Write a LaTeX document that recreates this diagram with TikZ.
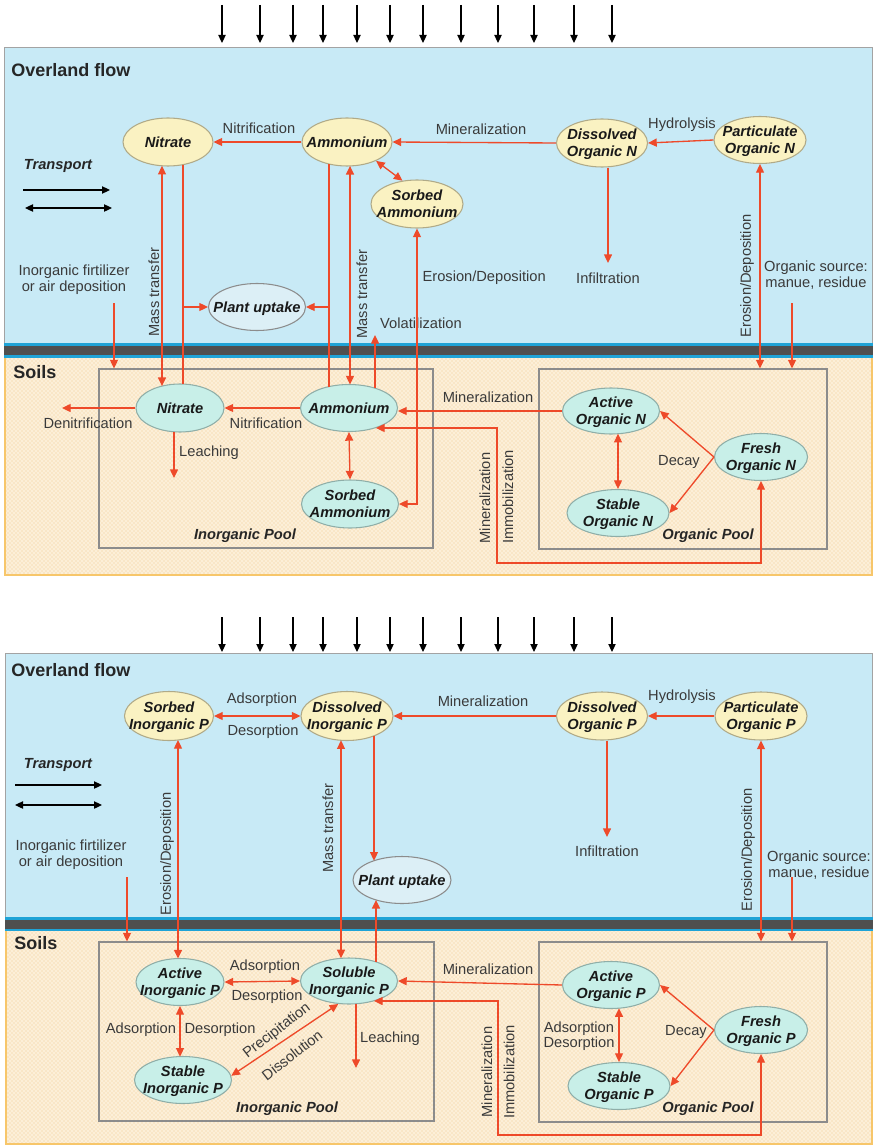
\documentclass[tikz,border=0pt]{standalone}
\usepackage{fontspec}
\setmainfont{Liberation Sans}
\usetikzlibrary{arrows.meta,calc,patterns,shapes.geometric}
\definecolor{skyb}{HTML}{C8EAF6}
\definecolor{soilc}{HTML}{FCEFD8}
\definecolor{soild}{HTML}{F2CC90}
\definecolor{ylwf}{HTML}{FAF2C2}
\definecolor{ylwd}{HTML}{B0AA88}
\definecolor{mntf}{HTML}{C8EFE8}
\definecolor{mntd}{HTML}{8FAEA8}
\definecolor{plf}{HTML}{DCEFF6}
\definecolor{redc}{HTML}{EE4A2A}
\definecolor{txtc}{HTML}{3A3A3A}
\definecolor{bandd}{HTML}{4F4F4F}
\definecolor{bandb}{HTML}{1FA3D6}
\definecolor{boxg}{HTML}{8C8C8C}
\definecolor{soilb}{HTML}{F7C66A}
\newcommand{\etx}[1]{\raisebox{-4pt}[0pt][0pt]{\makebox[0pt]{\begin{tabular}{@{}c@{}}#1\end{tabular}}}}
\tikzset{
  sz/.style 2 args={minimum width=#1*0.75pt, minimum height=#2*0.75pt},
  ebase/.style={ellipse, inner sep=0pt, line width=0.8pt, text=black!90,
     font=\bfseries\itshape\fontsize{11}{13}\selectfont},
  ylw/.style={ebase, fill=ylwf, draw=ylwd},
  mnt/.style={ebase, fill=mntf, draw=mntd},
  plnt/.style={ebase, fill=plf, draw=boxg},
  lbl/.style={font=\fontsize{11}{12}\selectfont, text=txtc, inner sep=1pt, align=center},
  blbl/.style={font=\bfseries\itshape\fontsize{11}{12}\selectfont, text=black!85, inner sep=1pt},
  ttl/.style={font=\bfseries\fontsize{13.5}{15}\selectfont, text=black!85, inner sep=0pt, anchor=west},
  rl/.style={draw=redc, line width=1pt},
  ra/.style={rl, -{Triangle[length=6.5pt,width=6pt]}},
  rab/.style={rl, {Triangle[length=6.5pt,width=6pt]}-{Triangle[length=6.5pt,width=6pt]}},
  pool/.style={draw=boxg, line width=0.8pt, inner sep=0pt, rectangle},
  bk/.style={draw=black, line width=0.8pt, -{Triangle[length=6pt,width=5.5pt]}},
  bkb/.style={draw=black, line width=0.9pt, {Triangle[length=6pt,width=5.5pt]}-{Triangle[length=6pt,width=5.5pt]}},
}
\begin{document}
\begin{tikzpicture}[x=0.75pt,y=-0.75pt]
\useasboundingbox (0,0) rectangle (873,1145);
% ---------- backgrounds, top panel
\fill[skyb] (4,47) rectangle (872,344);
\draw[boxg!80, line width=0.6pt] (4,344) -- (4,47) -- (872,47) -- (872,344);
\fill[bandb] (4,343) rectangle (873,358);
\fill[bandd] (4,346) rectangle (873,355);
\fill[soilc] (4,358) rectangle (872,575);
\fill[pattern=crosshatch dots, pattern color=soild] (4,358) rectangle (872,575);
\draw[soilb, line width=1pt] (5,358) -- (5,575) -- (872,575) -- (872,358);
% ---------- backgrounds, bottom panel
\fill[skyb] (5,653) rectangle (872,918);
\draw[boxg!80, line width=0.6pt] (5,918) -- (5,653) -- (872,653) -- (872,918);
\fill[bandb] (5,917) rectangle (873,931);
\fill[bandd] (5,920) rectangle (873,929);
\fill[soilc] (5,931) rectangle (872,1145);
\fill[pattern=crosshatch dots, pattern color=soild] (5,931) rectangle (872,1145);
\draw[soilb, line width=1pt] (6,931) -- (6,1144) -- (872,1144) -- (872,931);
% rain arrows
\foreach \xx in {222,260,293,323,357,390,423,461,498,534,574,612} {
  \draw[bk] (\xx,5) -- (\xx,43);
  \draw[bk] (\xx,617) -- (\xx,652);
}
% ================= TOP PANEL (N) =================
\node[ttl] (ovT) at (11,70) {Overland flow};
\node[ttl] (soT) at (13,372) {Soils};
\node[pool, sz={334}{179}] (ipT) at (266,458.5) {};
\node[pool, sz={288}{180}] (opT) at (683,459) {};

\node[ylw, sz={90}{48}] (nitT) at (168,142) {\etx{Nitrate}};
\node[ylw, sz={90}{48}] (ammT) at (347,142) {\etx{Ammonium}};
\node[ylw, sz={92}{48}] (sorT) at (417,204) {\etx{Sorbed\\Ammonium}};
\node[ylw, sz={91}{48}] (donT) at (602,143) {\etx{Dissolved\\Organic N}};
\node[ylw, sz={92}{47}] (ponT) at (760,140) {\etx{Particulate\\Organic N}};
\node[plnt, sz={97}{47}] (plantT) at (257,307) {\etx{Plant uptake}};

\node[mnt, sz={88}{48}] (nitS) at (180,408) {\etx{Nitrate}};
\node[mnt, sz={97}{47}] (ammS) at (349,408) {\etx{Ammonium}};
\node[mnt, sz={97}{48}] (sorS) at (350,504) {\etx{Sorbed\\Ammonium}};
\node[mnt, sz={97}{46}] (aonS) at (611,411) {\etx{Active\\Organic N}};
\node[mnt, sz={93}{47}] (fonS) at (761,457) {\etx{Fresh\\Organic N}};
\node[mnt, sz={102}{47}] (sonS) at (618,513) {\etx{Stable\\Organic N}};

\node[blbl] (trT) at (58,166) {Transport};
\coordinate (trT1a) at (23,190); \coordinate (trT1b) at (110,190);
\coordinate (trT2a) at (25,208); \coordinate (trT2b) at (112,208);
\draw[bk] (trT1a) -- (trT1b);
\draw[bkb] (trT2a) -- (trT2b);

\node[lbl] (ferT) at (74,280) {Inorganic firtilizer\\or air deposition};
\node[lbl] (nitrifT) at (259,128) {Nitrification};
\node[lbl] (minT) at (481,129) {Mineralization};
\node[lbl] (hydT) at (682,125) {Hydrolysis};
\node[lbl] (infT) at (608,278) {Infiltration};
\node[lbl, rotate=90] (edT2) at (747,276) {Erosion/Deposition};
\node[lbl] (orgT) at (816,275) {Organic source:\\ manue, residue};
\node[lbl, rotate=90] (mtT1) at (154,292) {Mass transfer};
\node[lbl, rotate=90] (mtT2) at (362,294) {Mass transfer};
\node[lbl] (volT) at (421,323) {Volatilization};
\node[lbl, anchor=west] (edT1) at (421,278) {Erosion/Deposition};
\node[lbl] (nitrifS) at (266,423) {Nitrification};
\node[lbl] (denT) at (88,423) {Denitrification};
\node[lbl] (leaT) at (209,453) {Leaching};
\node[lbl] (minS) at (488,397) {Mineralization};
\node[lbl, rotate=90] (minR) at (485,498) {Mineralization};
\node[lbl, rotate=90] (immR) at (508,497) {Immobilization};
\node[lbl] (decT) at (679,462) {Decay};
\node[blbl] (ipLbl) at (245,536) {Inorganic Pool};
\node[blbl] (opLbl) at (708,536) {Organic Pool};

\coordinate (infTip) at (608,263);
\coordinate (orgTs) at (792,303);
\coordinate (ferTs) at (114,303);
\coordinate (denTip) at (62,408);
\coordinate (leaTip) at (174,478);
\coordinate (volTip) at (375,335);

\draw[ra] (ammT.west) -- (nitT.east);
\draw[ra] (donT.west) -- (ammT.east);
\draw[ra] (ponT.west) -- (donT.east);
\draw[rab] (ammT.-33) -- (sorT.122);
\draw[ra] (donT.south -| infTip) -- (infTip);
\draw[rab] (ponT.south) -- (ponT.south |- opT.north);
\draw[ra] (orgTs) -- (orgTs |- opT.north);
\draw[ra] (ferTs) -- (ferTs |- ipT.north);
% nitrate links
\draw[rab] ($(nitT)+(-6,23.8)$) -- ($(nitS)+(-18,-21.9)$);
\draw[rl] ($(nitT)+(15,22.6)$) -- ($(nitS)+(3,-23.9)$);
\draw[ra] (plantT.west -| 183,0) -- (plantT.west);
% ammonium links
\draw[rl] ($(ammT)+(-18,22)$) -- ($(ammS)+(-20,-21.4)$);
\draw[ra] (plantT.east -| 329,0) -- (plantT.east);
\draw[rab] ($(ammT)+(3,23.9)$) -- ($(ammS)+(1,-23.5)$);
\draw[ra] ($(ammS)+(26,-19.8)$) -- (volTip);
\draw[rab] (sorS.east) -| (sorT.south);
% soil links
\draw[ra] (ammS.west) -- (nitS.east);
\draw[ra] (nitS.west) -- (denTip);
\draw[ra] ($(nitS)+(-6,23.8)$) -- (leaTip);
\draw[rab] (ammS.south) -- (sorS.north);
\draw[ra] (aonS.west) -- (aonS.west -| ammS.east);
\draw[rab] ($(ammS)+(27,20)$) -- (497,428) -- (497,563) -| (fonS.south);
\draw[ra] (fonS.west) -- (aonS.east);
\draw[ra] (fonS.west) -- (sonS.east);
\draw[rab] ($(aonS)+(7,22.8)$) -- (sonS.north);

% ================= BOTTOM PANEL (P) =================
\node[ttl] (ovB) at (11,670) {Overland flow};
\node[ttl] (soB) at (14,943) {Soils};
\node[pool, sz={335}{179}] (ipB) at (266.5,1031.5) {};
\node[pool, sz={288}{180}] (opB) at (683,1032) {};

\node[ylw, sz={89}{49}] (sipB) at (169,716) {\etx{Sorbed\\Inorganic P}};
\node[ylw, sz={92}{49}] (dipB) at (347,716) {\etx{Dissolved\\Inorganic P}};
\node[ylw, sz={91}{48}] (dopB) at (602,716) {\etx{Dissolved\\Organic P}};
\node[ylw, sz={92}{48}] (popB) at (761,716) {\etx{Particulate\\Organic P}};
\node[plnt, sz={98}{47}] (plantB) at (402,880) {\etx{Plant uptake}};

\node[mnt, sz={88}{47}] (aipB) at (180,982) {\etx{Active\\Inorganic P}};
\node[mnt, sz={97}{46}] (solB) at (349,981) {\etx{Soluble\\Inorganic P}};
\node[mnt, sz={97}{47}] (stipB) at (183,1080) {\etx{Stable\\Inorganic P}};
\node[mnt, sz={97}{47}] (aopB) at (611,985) {\etx{Active\\Organic P}};
\node[mnt, sz={93}{47}] (fopB) at (761,1030) {\etx{Fresh\\Organic P}};
\node[mnt, sz={102}{47}] (sopB) at (619,1086) {\etx{Stable\\Organic P}};

\node[blbl] (trB) at (58,765) {Transport};
\coordinate (trB1a) at (15,785); \coordinate (trB1b) at (102,785);
\coordinate (trB2a) at (15,805); \coordinate (trB2b) at (102,805);
\draw[bk] (trB1a) -- (trB1b);
\draw[bkb] (trB2a) -- (trB2b);

\node[lbl] (ferB) at (71,855) {Inorganic firtilizer\\or air deposition};
\node[lbl] (adsB1) at (262,700) {Adsorption};
\node[lbl] (desB1) at (263,732) {Desorption};
\node[lbl] (minB) at (483,701) {Mineralization};
\node[lbl] (hydB) at (682,697) {Hydrolysis};
\node[lbl] (infB) at (607,851) {Infiltration};
\node[lbl, rotate=90] (edB2) at (748,850) {Erosion/Deposition};
\node[lbl] (orgB) at (819,865) {Organic source:\\ manue, residue};
\node[lbl, rotate=90] (edB1) at (167,854) {Erosion/Deposition};
\node[lbl, rotate=90] (mtB) at (328,828) {Mass transfer};
\node[lbl] (adsB2) at (265,967) {Adsorption};
\node[lbl] (desB2) at (267,997) {Desorption};
\node[lbl] (adsB3) at (141,1030) {Adsorption};
\node[lbl] (desB3) at (220,1030) {Desorption};
\node[lbl, rotate=38] (preB) at (277,1031) {Precipitation};
\node[lbl, rotate=38] (disB) at (292,1055) {Dissolution};
\node[lbl] (leaB) at (390,1039) {Leaching};
\node[lbl] (minB2) at (488,969) {Mineralization};
\node[lbl, rotate=90] (minBR) at (487,1072) {Mineralization};
\node[lbl, rotate=90] (immBR) at (509,1072) {Immobilization};
\node[lbl] (decB) at (686,1032) {Decay};
\node[lbl, font=\fontsize{11}{11.3}\selectfont] (adB4) at (579,1036) {Adsorption\\Desorption};
\node[blbl] (ipLblB) at (287,1109) {Inorganic Pool};
\node[blbl] (opLblB) at (708,1109) {Organic Pool};

\coordinate (infTipB) at (607,837);
\coordinate (orgBs) at (792,877);
\coordinate (ferBs) at (127,877);
\coordinate (leaTipB) at (356,1068);

\draw[rab] (sipB.east) -- (dipB.west);
\draw[ra] (dopB.west) -- (dipB.east);
\draw[ra] (popB.west) -- (dopB.east);
\draw[ra] (dopB.south -| infTipB) -- (infTipB);
\draw[rab] (popB.south) -- (popB.south |- opB.north);
\draw[ra] (orgBs) -- (orgBs |- opB.north);
\draw[ra] (ferBs) -- (ferBs |- ipB.north);
\draw[rab] ($(sipB)+(9,24)$) -- ($(aipB)+(-2,-23.5)$);
\draw[rab] ($(dipB)+(-6,24.3)$) -- ($(solB)+(-8,-22.7)$);
\draw[ra] ($(dipB)+(27,19.8)$) -- ($(plantB)+(-28,-19.3)$);
\draw[ra] ($(solB)+(27,-19.1)$) -- ($(plantB)+(-26,19.9)$);
\draw[rab] (aipB.east) -- (solB.west);
\draw[rab] (aipB.south) -- ($(stipB)+(-3,-23.3)$);
\draw[rab] (solB.-115) -- (stipB.5);
\draw[ra] ($(solB)+(7,22.8)$) -- (leaTipB);
\draw[ra] (aopB.west) -- (solB.east);
\draw[rab] ($(solB)+(25,20)$) -- (498,1001) -- (498,1135) -| (fopB.south);
\draw[ra] (fopB.west) -- (aopB.east);
\draw[ra] (fopB.west) -- (sopB.east);
\draw[rab] ($(aopB)+(8,23.2)$) -- (sopB.north);
\end{tikzpicture}
\end{document}
